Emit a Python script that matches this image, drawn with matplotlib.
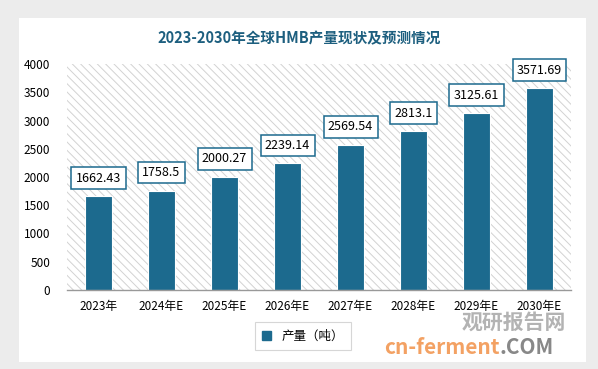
import numpy as np
import matplotlib.pyplot as plt
from matplotlib.patches import Rectangle, FancyBboxPatch

plt.rcParams['font.family'] = ['Noto Sans CJK SC', 'DejaVu Sans']
plt.rcParams['hatch.linewidth'] = 0.7

years = ['2023年', '2024年E', '2025年E', '2026年E', '2027年E', '2028年E', '2029年E', '2030年E']
output = [1662.43, 1758.5, 2000.27, 2239.14, 2569.54, 2813.1, 3125.61, 3571.69]
labels = ['1662.43', '1758.5', '2000.27', '2239.14', '2569.54', '2813.1', '3125.61', '3571.69']

bar_color = '#1c6a8e'
title_color = '#1d5f7f'

fig = plt.figure(figsize=(5.98, 3.69), dpi=100)
fig.patch.set_facecolor('#ececec')

# white card behind everything
card = FancyBboxPatch((19 / 598, 1 - 362 / 369), (586 - 19) / 598, (362 - 18) / 369,
                      boxstyle='square,pad=0', transform=fig.transFigure,
                      facecolor='white', edgecolor='none', zorder=-5)
fig.patches.append(card)

ax = fig.add_axes([67 / 598, 1 - 290 / 369, (571 - 67) / 598, (290 - 64) / 369])
ax.set_zorder(1)
ax.set_facecolor('white')
ax.add_patch(Rectangle((0, 0), 1, 1, transform=ax.transAxes, facecolor='white',
                       edgecolor='#d2d2d2', linewidth=0, hatch='\\\\\\\\', zorder=0))

x = np.arange(len(years))
ax.bar(x, output, width=0.43, color=bar_color, edgecolor='white', linewidth=0.8, zorder=2)
for xi, v, t in zip(x, output, labels):
    ax.annotate(t, (xi, v), xytext=(0, 13), textcoords='offset points',
                ha='center', va='center', fontsize=9, color='black', zorder=3,
                bbox=dict(boxstyle='square,pad=0.35', facecolor='white',
                          edgecolor=bar_color, linewidth=1.1))

ax.set_xlim(-0.5, len(years) - 0.5)
ax.set_ylim(0, 4000)
ax.set_yticks(np.arange(0, 4001, 500))
ax.set_xticks(x)
ax.set_xticklabels(years)
ax.tick_params(axis='both', length=0, labelsize=8.5, colors='black')
ax.tick_params(axis='y', pad=12)
ax.tick_params(axis='x', pad=7)
for s in ['top', 'right', 'left']:
    ax.spines[s].set_visible(False)
ax.spines['bottom'].set_color('#999999')
ax.spines['bottom'].set_linewidth(1.0)

fig.text(0.5, 1 - 38 / 369, '2023-2030年全球HMB产量现状及预测情况', ha='center', va='center',
         fontsize=10.5, fontweight='bold', color=title_color)

leg = fig.legend([Rectangle((0, 0), 1, 1, color=bar_color)], ['产量（吨）'],
                 loc='center', bbox_to_anchor=(303 / 598, 1 - 336 / 369),
                 frameon=True, fontsize=9, handlelength=0.7, handleheight=0.7,
                 borderpad=0.6, fancybox=False)
leg.get_frame().set_edgecolor('#cccccc')
leg.get_frame().set_linewidth(0.8)

# watermark
fig.text(0.86, 1 - 322 / 369, '观研报告网', ha='center', va='center', fontsize=15,
         fontweight='bold', color='#9a9a9a', alpha=0.75, zorder=5)
fig.text(0.835, 1 - 347 / 369, 'cn-ferment', ha='right', va='center', fontsize=15,
         fontweight='bold', color='#f08a3c', alpha=0.8, zorder=5)
fig.text(0.835, 1 - 347 / 369, '.COM', ha='left', va='center', fontsize=15,
         fontweight='bold', color='#6a6a6a', alpha=0.8, zorder=5)

fig.savefig('out.png', dpi=100, facecolor=fig.get_facecolor())
